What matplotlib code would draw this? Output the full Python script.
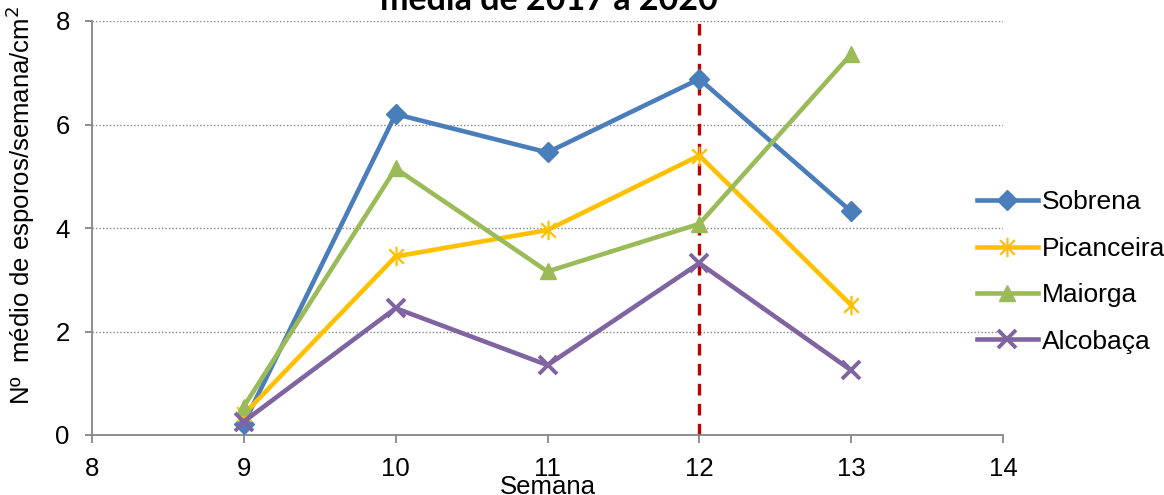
import matplotlib.pyplot as plt
import numpy as np
from matplotlib.path import Path

plt.rcParams['font.family'] = ['Liberation Sans', 'DejaVu Sans']

# weekly spore counts (mean 2017-2020)
semanas = [9, 10, 11, 12, 13]
sobrena = [0.22, 6.2, 5.46, 6.88, 4.32]
picanceira = [0.4, 3.45, 3.96, 5.4, 2.51]
maiorga = [0.55, 5.15, 3.16, 4.08, 7.36]
alcobaca = [0.26, 2.45, 1.35, 3.32, 1.25]
semana_ref = 12

# Excel-like star marker: vertical bar plus an X
star = Path([(0, -1), (0, 1), (-0.75, -0.75), (0.75, 0.75), (-0.75, 0.75), (0.75, -0.75)],
            [Path.MOVETO, Path.LINETO, Path.MOVETO, Path.LINETO, Path.MOVETO, Path.LINETO])

fig = plt.figure(figsize=(11.64, 4.95), dpi=100)
ax = fig.add_axes([92 / 1164, 60 / 495, 911 / 1164, 414 / 495])

lw = 3.3
ax.plot(semanas, sobrena, color='#4A7EBB', lw=lw, marker='D', ms=10.5, label='Sobrena', zorder=3)
ax.plot(semanas, picanceira, color='#FFC000', lw=lw, marker=star, ms=14, mew=1.6,
        mec='#FFC000', label='Picanceira', zorder=3)
ax.plot(semanas, maiorga, color='#9BBB59', lw=lw, marker='^', ms=12, label='Maiorga', zorder=3)
ax.plot(semanas, alcobaca, color='#8064A2', lw=lw, marker='x', ms=13, mew=2.8,
        label='Alcobaça', zorder=4)

ax.axvline(semana_ref, color='#C00000', lw=2.4, ls=(0, (3.5, 2.5)), zorder=2)

ax.set_xlim(8, 14)
ax.set_ylim(0, 8)
ax.set_xticks(np.arange(8, 15, 1))
ax.set_yticks(np.arange(0, 9, 2))
ax.yaxis.grid(True, color='#868686', ls=(0, (1, 1.5)), lw=1)
ax.set_axisbelow(True)
for s in ['top', 'right']:
    ax.spines[s].set_visible(False)
for s in ['left', 'bottom']:
    ax.spines[s].set_color('#868686')
    ax.spines[s].set_linewidth(1.3)
ax.tick_params(axis='y', length=5, color='#868686', width=1.3, pad=11, labelsize=18.5)
ax.tick_params(axis='x', length=6, color='#868686', width=1.3, pad=10, labelsize=18.5)

fig.text(20 / 1164, 1 - 205 / 495, 'Nº  médio de esporos/semana/cm$^2$', rotation=90,
         ha='center', va='center', fontsize=18.5)
fig.text(548 / 1164, 1 - 494 / 495, 'Semana', ha='center', va='baseline', fontsize=18.5)
fig.text(549 / 1164, 1 - 10 / 495, 'média de 2017 a 2020', ha='center', va='baseline',
         fontsize=24.5, fontweight='bold', family=['Lato', 'DejaVu Sans'])

fig.legend(loc='center left', bbox_to_anchor=(977 / 1164, 1 - 272 / 495), frameon=False,
           fontsize=19, handlelength=2.3, handletextpad=0.15, labelspacing=0.85,
           borderaxespad=0, borderpad=0)

fig.savefig('out.png', dpi=100)
